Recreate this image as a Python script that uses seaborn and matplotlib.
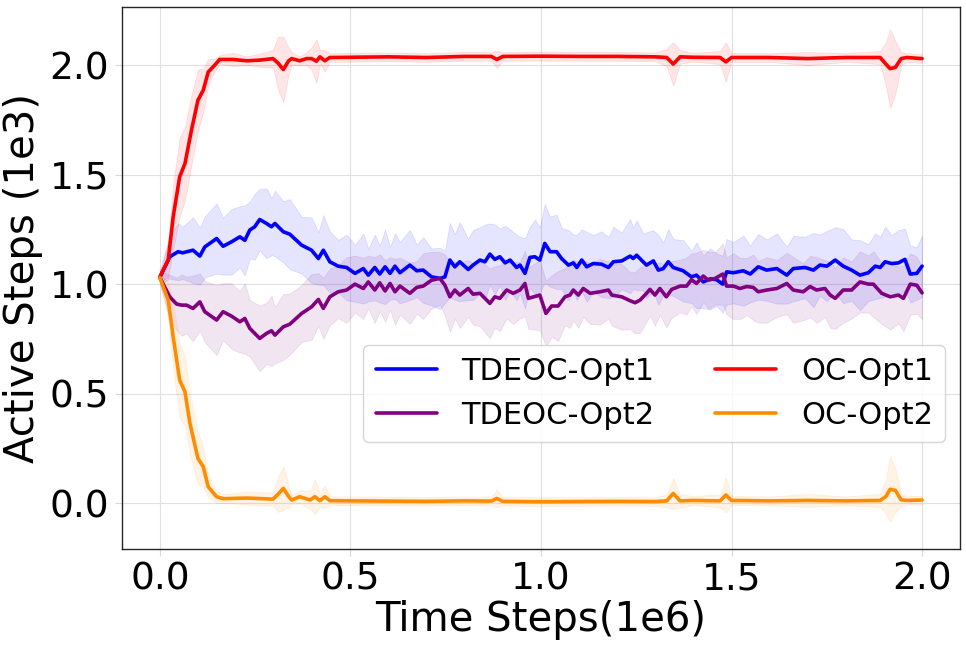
import numpy as np
import pandas as pd
import matplotlib
matplotlib.use("Agg")
import matplotlib.pyplot as plt
import seaborn as sns

# ---------------- data (x in 1e6 steps, y in 1e3 active steps) ----------------
labels = ["TDEOC-Opt1", "TDEOC-Opt2", "OC-Opt1", "OC-Opt2"]
colors = ["blue", "purple", "red", "darkorange"]
x_ticks = [0.0, 0.5, 1.0, 1.5, 2.0]
y_ticks = [0.0, 0.5, 1.0, 1.5, 2.0]

tdeoc1_x = [0, 0.026, 0.048, 0.06, 0.087, 0.105, 0.118, 0.149, 0.166, 0.188,
            0.21, 0.223, 0.236, 0.249, 0.262, 0.28, 0.293, 0.302, 0.324, 0.341,
            0.372, 0.398, 0.416, 0.429, 0.446, 0.468, 0.49, 0.512, 0.534, 0.547,
            0.564, 0.577, 0.591, 0.604, 0.617, 0.63, 0.656, 0.674, 0.691, 0.713,
            0.735, 0.748, 0.761, 0.774, 0.787, 0.809, 0.822, 0.84, 0.853, 0.866,
            0.879, 0.892, 0.906, 0.919, 0.936, 0.945, 0.958, 0.971, 0.984, 0.997,
            1.01, 1.024, 1.041, 1.054, 1.072, 1.085, 1.094, 1.107, 1.12, 1.137,
            1.159, 1.177, 1.19, 1.212, 1.234, 1.242, 1.251, 1.268, 1.277, 1.295,
            1.308, 1.321, 1.334, 1.347, 1.373, 1.395, 1.408, 1.426, 1.444, 1.461,
            1.477, 1.487, 1.505, 1.531, 1.549, 1.57, 1.592, 1.619, 1.645, 1.662,
            1.693, 1.715, 1.732, 1.75, 1.772, 1.793, 1.815, 1.837, 1.859, 1.877,
            1.89, 1.903, 1.92, 1.938, 1.955, 1.969, 1.986, 2.0]
tdeoc1_mean = [1.03, 1.125, 1.148, 1.143, 1.155, 1.128, 1.17, 1.208, 1.173, 1.193,
               1.216, 1.2, 1.247, 1.262, 1.295, 1.277, 1.262, 1.277, 1.239, 1.228,
               1.178, 1.155, 1.117, 1.155, 1.102, 1.082, 1.076, 1.049, 1.071, 1.041,
               1.076, 1.046, 1.079, 1.049, 1.082, 1.052, 1.087, 1.061, 1.064, 1.033,
               1.026, 1.033, 1.11, 1.079, 1.102, 1.067, 1.087, 1.11, 1.102, 1.137,
               1.113, 1.125, 1.097, 1.11, 1.076, 1.087, 1.049, 1.122, 1.125, 1.11,
               1.186, 1.148, 1.148, 1.117, 1.087, 1.097, 1.076, 1.11, 1.079, 1.094,
               1.091, 1.076, 1.102, 1.106, 1.128, 1.117, 1.132, 1.102, 1.087, 1.106,
               1.064, 1.071, 1.102, 1.076, 1.061, 1.033, 1.041, 1.01, 1.024, 1.02,
               1.0, 1.056, 1.052, 1.061, 1.046, 1.079, 1.064, 1.071, 1.041, 1.071,
               1.076, 1.064, 1.087, 1.082, 1.11, 1.082, 1.064, 1.041, 1.052, 1.082,
               1.076, 1.102, 1.094, 1.097, 1.113, 1.046, 1.049, 1.082]
tdeoc1_spread = [0.03, 0.10, 0.13, 0.12, 0.15, 0.13, 0.14, 0.16, 0.13, 0.15,
                 0.14, 0.16, 0.13, 0.15, 0.14, 0.16, 0.13, 0.15, 0.14, 0.16,
                 0.13, 0.15, 0.12, 0.16, 0.14, 0.12, 0.15, 0.13, 0.16, 0.12,
                 0.15, 0.13, 0.17, 0.12, 0.15, 0.14, 0.16, 0.12, 0.15, 0.13,
                 0.14, 0.12, 0.17, 0.15, 0.18, 0.14, 0.16, 0.15, 0.17, 0.14,
                 0.16, 0.13, 0.17, 0.14, 0.15, 0.13, 0.16, 0.14, 0.17, 0.15,
                 0.18, 0.16, 0.17, 0.14, 0.16, 0.13, 0.15, 0.14, 0.16, 0.13,
                 0.15, 0.14, 0.16, 0.13, 0.17, 0.14, 0.16, 0.13, 0.15, 0.14,
                 0.16, 0.12, 0.15, 0.13, 0.14, 0.12, 0.15, 0.12, 0.14, 0.12,
                 0.13, 0.15, 0.14, 0.16, 0.13, 0.15, 0.14, 0.16, 0.13, 0.15,
                 0.14, 0.17, 0.14, 0.16, 0.15, 0.17, 0.14, 0.16, 0.13, 0.15,
                 0.14, 0.16, 0.13, 0.15, 0.14, 0.13, 0.12, 0.14]

tdeoc2_x = [0, 0.026, 0.044, 0.057, 0.07, 0.087, 0.105, 0.118, 0.149, 0.166,
            0.188, 0.21, 0.223, 0.236, 0.262, 0.28, 0.293, 0.302, 0.324, 0.341,
            0.372, 0.398, 0.416, 0.429, 0.446, 0.468, 0.49, 0.512, 0.534, 0.547,
            0.564, 0.577, 0.591, 0.604, 0.617, 0.63, 0.656, 0.674, 0.691, 0.713,
            0.735, 0.748, 0.761, 0.774, 0.787, 0.809, 0.822, 0.84, 0.866, 0.879,
            0.892, 0.91, 0.927, 0.945, 0.958, 0.967, 0.997, 1.013, 1.028, 1.045,
            1.063, 1.076, 1.085, 1.098, 1.111, 1.129, 1.155, 1.177, 1.186, 1.212,
            1.234, 1.247, 1.26, 1.277, 1.286, 1.299, 1.312, 1.329, 1.343, 1.365,
            1.382, 1.395, 1.408, 1.426, 1.439, 1.457, 1.477, 1.487, 1.505, 1.522,
            1.54, 1.557, 1.57, 1.592, 1.619, 1.645, 1.662, 1.688, 1.706, 1.723,
            1.745, 1.759, 1.772, 1.793, 1.815, 1.837, 1.859, 1.872, 1.894, 1.916,
            1.938, 1.951, 1.969, 1.986, 2.0]
tdeoc2_mean = [1.03, 0.942, 0.909, 0.904, 0.904, 0.889, 0.919, 0.874, 0.836, 0.874,
               0.854, 0.828, 0.843, 0.798, 0.752, 0.775, 0.787, 0.767, 0.805, 0.817,
               0.866, 0.896, 0.93, 0.889, 0.942, 0.965, 0.973, 1.0, 0.98, 1.01,
               0.973, 1.006, 0.969, 1.003, 0.965, 0.991, 0.958, 0.985, 0.991, 1.018,
               1.026, 0.995, 0.942, 0.973, 0.95, 0.98, 0.954, 0.958, 0.912, 0.942,
               0.935, 0.973, 0.958, 0.973, 1.003, 0.935, 0.95, 0.866, 0.9, 0.9,
               0.942, 0.95, 0.973, 0.95, 0.98, 0.958, 0.965, 0.973, 0.95, 0.942,
               0.924, 0.915, 0.927, 0.958, 0.976, 0.95, 0.98, 0.942, 0.976, 0.991,
               0.991, 1.02, 1.003, 1.037, 1.018, 1.026, 1.046, 0.991, 0.991, 0.98,
               0.989, 0.985, 0.965, 0.973, 0.98, 1.003, 0.973, 0.965, 0.989, 0.973,
               0.98, 0.95, 0.935, 0.973, 0.973, 1.01, 1.0, 1.0, 0.958, 0.942,
               0.95, 0.935, 1.0, 0.995, 0.96]
tdeoc2_spread = [0.03, 0.10, 0.12, 0.14, 0.13, 0.15, 0.13, 0.14, 0.16, 0.13,
                 0.15, 0.14, 0.16, 0.13, 0.15, 0.14, 0.16, 0.13, 0.15, 0.14,
                 0.13, 0.15, 0.12, 0.14, 0.13, 0.12, 0.15, 0.13, 0.14, 0.12,
                 0.15, 0.13, 0.14, 0.12, 0.15, 0.13, 0.14, 0.12, 0.15, 0.13,
                 0.12, 0.14, 0.16, 0.13, 0.15, 0.13, 0.14, 0.15, 0.16, 0.14,
                 0.15, 0.13, 0.14, 0.13, 0.15, 0.14, 0.16, 0.15, 0.14, 0.16,
                 0.13, 0.15, 0.14, 0.15, 0.13, 0.14, 0.15, 0.13, 0.14, 0.15,
                 0.13, 0.14, 0.15, 0.13, 0.12, 0.14, 0.12, 0.14, 0.13, 0.12,
                 0.13, 0.12, 0.14, 0.12, 0.13, 0.12, 0.14, 0.13, 0.15, 0.14,
                 0.13, 0.15, 0.14, 0.15, 0.13, 0.14, 0.15, 0.13, 0.14, 0.15,
                 0.13, 0.15, 0.14, 0.15, 0.13, 0.14, 0.13, 0.15, 0.14, 0.15,
                 0.13, 0.15, 0.14, 0.13, 0.12]

oc1_x = [0, 0.022, 0.035, 0.052, 0.066, 0.083, 0.1, 0.114, 0.127, 0.144,
         0.157, 0.192, 0.228, 0.262, 0.297, 0.31, 0.324, 0.338, 0.346, 0.367,
         0.385, 0.398, 0.411, 0.42, 0.433, 0.446, 0.5, 0.6, 0.7, 0.8,
         0.87, 0.884, 0.9, 1.0, 1.1, 1.2, 1.3, 1.33, 1.347, 1.365,
         1.4, 1.47, 1.485, 1.5, 1.6, 1.7, 1.8, 1.89, 1.905, 1.916,
         1.93, 1.945, 1.96, 2.0]
oc1_mean = [1.033, 1.11, 1.307, 1.49, 1.551, 1.703, 1.84, 1.886, 1.969, 2.0,
            2.026, 2.026, 2.02, 2.023, 2.03, 2.01, 1.98, 2.02, 2.03, 2.02,
            2.03, 2.03, 2.018, 2.038, 2.02, 2.035, 2.036, 2.038, 2.035, 2.04,
            2.04, 2.026, 2.04, 2.041, 2.04, 2.04, 2.038, 2.035, 2.005, 2.038,
            2.036, 2.035, 2.015, 2.035, 2.035, 2.03, 2.035, 2.035, 2.005, 1.984,
            1.99, 2.03, 2.035, 2.03]
oc1_spread = [0.02, 0.08, 0.15, 0.18, 0.17, 0.16, 0.14, 0.1, 0.06, 0.03,
              0.02, 0.03, 0.02, 0.03, 0.04, 0.12, 0.15, 0.06, 0.03, 0.02,
              0.03, 0.05, 0.1, 0.03, 0.05, 0.02, 0.02, 0.02, 0.02, 0.02,
              0.02, 0.04, 0.02, 0.02, 0.02, 0.02, 0.02, 0.04, 0.1, 0.03,
              0.02, 0.03, 0.09, 0.02, 0.02, 0.03, 0.02, 0.03, 0.1, 0.18,
              0.12, 0.03, 0.02, 0.02]

oc2_x = [0, 0.022, 0.035, 0.052, 0.066, 0.079, 0.1, 0.114, 0.127, 0.149,
         0.166, 0.228, 0.297, 0.31, 0.324, 0.338, 0.346, 0.367, 0.394, 0.407,
         0.42, 0.433, 0.446, 0.5, 0.6, 0.7, 0.8, 0.87, 0.884, 0.9,
         1.0, 1.1, 1.2, 1.3, 1.33, 1.347, 1.365, 1.4, 1.47, 1.485,
         1.5, 1.6, 1.7, 1.8, 1.89, 1.905, 1.916, 1.93, 1.945, 1.96, 2.0]
oc2_mean = [1.03, 0.927, 0.76, 0.562, 0.508, 0.364, 0.204, 0.166, 0.074, 0.029,
            0.02, 0.023, 0.018, 0.04, 0.067, 0.03, 0.014, 0.029, 0.014, 0.029,
            0.011, 0.029, 0.011, 0.01, 0.009, 0.008, 0.01, 0.009, 0.021, 0.008,
            0.006, 0.007, 0.008, 0.007, 0.01, 0.044, 0.01, 0.012, 0.01, 0.037,
            0.012, 0.01, 0.012, 0.01, 0.012, 0.03, 0.063, 0.058, 0.015, 0.012, 0.014]
oc2_spread = [0.02, 0.08, 0.15, 0.17, 0.16, 0.14, 0.12, 0.09, 0.05, 0.03,
              0.02, 0.03, 0.03, 0.08, 0.1, 0.05, 0.02, 0.03, 0.04, 0.08,
              0.03, 0.05, 0.02, 0.02, 0.02, 0.02, 0.02, 0.02, 0.04, 0.02,
              0.02, 0.02, 0.02, 0.02, 0.03, 0.07, 0.03, 0.02, 0.03, 0.08,
              0.02, 0.02, 0.03, 0.02, 0.03, 0.08, 0.15, 0.1, 0.03, 0.02, 0.02]

series = [
    (tdeoc1_x, tdeoc1_mean, tdeoc1_spread),
    (tdeoc2_x, tdeoc2_mean, tdeoc2_spread),
    (oc1_x, oc1_mean, oc1_spread),
    (oc2_x, oc2_mean, oc2_spread),
]

# ---------------- plotting ----------------
sns.set_style("whitegrid")
plt.rcParams["font.family"] = ["DejaVu Sans"]
plt.rcParams["text.color"] = "black"
plt.rcParams["axes.labelcolor"] = "black"
plt.rcParams["xtick.labelcolor"] = "black"
plt.rcParams["ytick.labelcolor"] = "black"

fig, ax = plt.subplots(figsize=(9.66, 6.49), dpi=100)
fig.subplots_adjust(left=0.126, right=0.994, top=0.989, bottom=0.154)

for (xs, ms, ss), lab, col in zip(series, labels, colors):
    xs = np.asarray(xs, float)
    ms = np.asarray(ms, float)
    ss = np.asarray(ss, float)
    df = pd.DataFrame({"x": xs, "y": ms})
    ax.fill_between(xs, ms - ss, ms + ss, color=col, alpha=0.1, linewidth=0.6)
    sns.lineplot(data=df, x="x", y="y", ax=ax, color=col, linewidth=2.6,
                 label=lab, sort=False, estimator=None)

ax.set_xlim(-0.1, 2.1)
ax.set_ylim(-0.21, 2.265)
ax.set_xticks(x_ticks)
ax.set_yticks(y_ticks)
ax.set_xticklabels([f"{v:.1f}" for v in x_ticks])
ax.set_yticklabels([f"{v:.1f}" for v in y_ticks])
ax.tick_params(axis="both", labelsize=27, length=5, color="0.85",
               labelcolor="black", bottom=True, left=True, pad=4)
ax.set_xlabel("Time Steps(1e6)", fontsize=29, labelpad=2, color="black")
ax.set_ylabel("Active Steps (1e3)", fontsize=29, labelpad=5, color="black")
ax.grid(True, color="0.88", linewidth=0.8)
for sp in ax.spines.values():
    sp.set_color("0.15")
    sp.set_linewidth(1.0)

leg = ax.legend(ncol=2, fontsize=22, loc="lower right",
                bbox_to_anchor=(0.982, 0.197), frameon=True,
                handlelength=2.0, borderaxespad=0.0)
leg.get_frame().set_edgecolor("0.8")
for t in leg.get_texts():
    t.set_color("black")
for line in leg.get_lines():
    line.set_linewidth(2.6)

fig.savefig("out.png", dpi=100)
